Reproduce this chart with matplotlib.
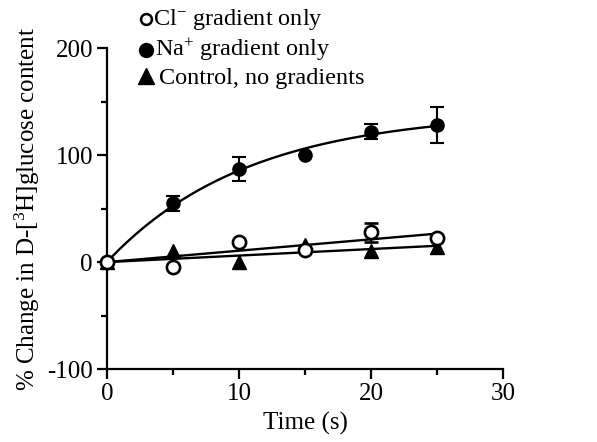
import numpy as np
import matplotlib
matplotlib.use("Agg")
import matplotlib.pyplot as plt
from matplotlib.lines import Line2D
from matplotlib.ticker import MultipleLocator

plt.rcParams['font.family'] = 'serif'
plt.rcParams['font.serif'] = ['Liberation Serif', 'Times New Roman', 'DejaVu Serif']
plt.rcParams['mathtext.fontset'] = 'custom'
plt.rcParams['mathtext.rm'] = 'Liberation Serif'
plt.rcParams['mathtext.it'] = 'Liberation Serif:italic'
plt.rcParams['mathtext.bf'] = 'Liberation Serif:bold'
plt.rcParams['axes.unicode_minus'] = False

# Uptake time course (% change in D-[3H]glucose content)
time_s = [0, 5, 10, 15, 20, 25]
cl_only = [0, -5, 19, 11, 28, 23]
cl_err = [0, 0, 0, 0, 9, 0]
na_only = [0, 55, 87, 100, 122, 128]
na_err = [0, 7, 11, 0, 7, 17]
control = [0, 10, 0, 16, 10, 14]

x_ticks = [0, 10, 20, 30]
y_ticks = [-100, 0, 100, 200]

legend_labels = [r'Cl$^{-}$ gradient only', r'Na$^{+}$ gradient only',
                 'Control, no gradients']

t = np.asarray(time_s, dtype=float)
t_fine = np.linspace(0, 25, 200)

# Na+ curve: least-squares fit of A * (1 - exp(-k t))
na = np.asarray(na_only, dtype=float)
best = None
for k in np.linspace(0.01, 0.5, 2000):
    f = 1 - np.exp(-k * t)
    a = np.dot(f, na) / np.dot(f, f)
    sse = np.sum((na - a * f) ** 2)
    if best is None or sse < best[0]:
        best = (sse, a, k)
_, na_a, na_k = best
na_curve = na_a * (1 - np.exp(-na_k * t_fine))

# Straight lines through the origin for the other two conditions
def origin_slope(y):
    y = np.asarray(y, dtype=float)
    return np.dot(t, y) / np.dot(t, t)

cl_line = origin_slope(cl_only) * t_fine
ctrl_line = origin_slope(control) * t_fine

W, H = 597, 442
fig = plt.figure(figsize=(W / 100, H / 100), dpi=100)
ax = fig.add_axes([0.179, 0.165, 0.664, 0.726])

lw = 1.7
ax.plot(t_fine, na_curve, color='black', lw=lw, zorder=2)
ax.plot(t_fine, cl_line, color='black', lw=lw, zorder=2)
ax.plot(t_fine, ctrl_line, color='black', lw=lw, zorder=2)

ms = 9.5
ax.errorbar(time_s, na_only, yerr=na_err, fmt='o', color='black', ms=ms,
            capsize=5, elinewidth=1.5, capthick=1.5, zorder=3, clip_on=False)
ax.plot(time_s, control, '^', color='black', ms=ms + 1, zorder=4,
        clip_on=False, ls='none')
ax.errorbar(time_s, cl_only, yerr=cl_err, fmt='o', mfc='white', mec='black',
            mew=1.9, color='black', ms=ms, capsize=5, elinewidth=1.5,
            capthick=1.5, zorder=5, clip_on=False)

ax.set_xlim(0, 30)
ax.set_ylim(-100, 200)
ax.set_xticks(x_ticks)
ax.set_yticks(y_ticks)
ax.xaxis.set_minor_locator(MultipleLocator(5))
ax.yaxis.set_minor_locator(MultipleLocator(50))

for s in ['top', 'right']:
    ax.spines[s].set_visible(False)
for s in ['left', 'bottom']:
    ax.spines[s].set_linewidth(1.6)

fs = 18
ax.tick_params(axis='both', which='major', direction='out', length=7,
               width=1.6, labelsize=fs, pad=3)
ax.tick_params(axis='both', which='minor', direction='out', length=4,
               width=1.6)

ax.set_xlabel('Time (s)', fontsize=fs, labelpad=5)
ax.set_ylabel(r'% Change in D-[$^{3}$H]glucose content', fontsize=fs,
              labelpad=4)

# Key: symbol followed by its caption, one row per condition
key_styles = [
    dict(marker='o', mfc='white', mec='black', mew=1.8, ms=7.8),
    dict(marker='o', mfc='black', mec='black', ms=10),
    dict(marker='^', mfc='black', mec='black', ms=11.5),
]
key_marker_x = [146, 146, 146]
key_marker_y = [19, 50, 76]
key_text_x = [153, 155, 159]
key_baseline = [25, 56, 84]
for style, mx, my, tx, by, lab in zip(key_styles, key_marker_x, key_marker_y,
                                      key_text_x, key_baseline, legend_labels):
    fig.add_artist(Line2D([mx / W], [1 - my / H], ls='none',
                          transform=fig.transFigure, **style))
    fig.text(tx / W, 1 - by / H, lab, fontsize=17.5, ha='left', va='baseline')

fig.savefig('out.png', dpi=100)
